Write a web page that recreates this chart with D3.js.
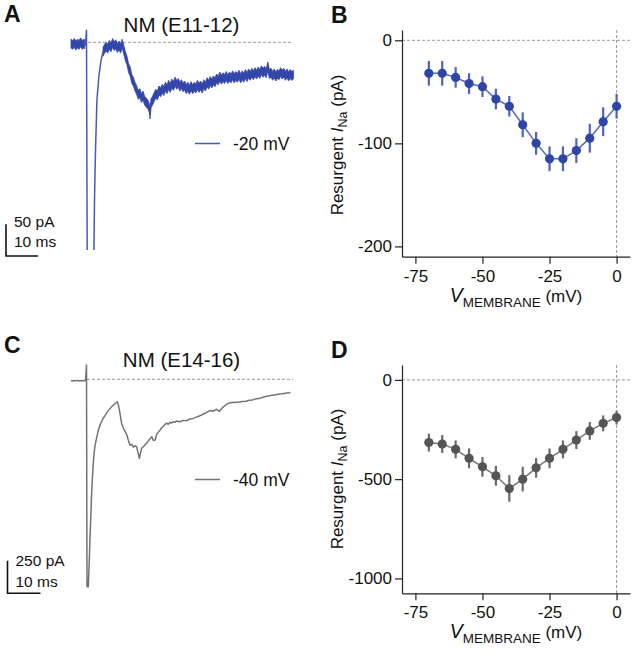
<!DOCTYPE html>
<html>
<head>
<meta charset="utf-8">
<script src="https://cdn.jsdelivr.net/npm/d3@7"></script>
<style>
body { margin: 0; background: #fff; }
text { font-family: "Liberation Sans", Arial, Helvetica, sans-serif; fill: #111; }
</style>
</head>
<body>
<script>
// ---------- DATA ----------
// Panel A trace, [time ms, current pA]; baseline & tail are noisy (drawn as band)
const A_baseline = [[0,-2],[0.5,-4],[1,-1],[1.5,-5],[2,-2],[2.5,-4],[3,0],[3.5,-4],[4,-2],[4.3,-3]];
const A_spike = [[4.3,-3],[4.5,-5],[4.84,19],[5.1,-400],[7.0,-400],[7.34,-249],[7.66,-170],[8.1,-91],[8.75,-52],[9.4,-28],[10,-15]];
const A_tail = [[10,-15],[10.5,-10],[11,-7],[11.5,-10],[12,-4],[12.5,-8],[13,-1],[13.5,-6],[14,-3],[14.5,-9],[15,-5],[15.5,-10],[16,-2],[16.5,-12],[17,-22],[17.5,-29],[18,-41],[18.5,-46],[19,-58],[19.5,-62],[20,-70],[20.5,-75],[21,-83],[21.5,-80],[22,-88],[22.5,-84],[23,-92],[23.5,-95],[24,-98],[24.5,-104],[24.7,-114],[25,-96],[25.5,-92],[26,-86],[26.5,-81],[27,-84],[27.5,-76],[28,-79],[28.5,-73],[29,-77],[29.5,-70],[30,-74],[30.5,-67],[31,-72],[31.5,-65],[32,-69],[32.5,-62],[33,-67],[33.5,-64],[34,-70],[34.5,-66],[35,-71],[35.5,-68],[36,-74],[36.5,-70],[37,-75],[37.5,-69],[38,-74],[38.5,-70],[39,-73],[39.5,-67],[40,-72],[40.5,-68],[41,-73],[41.5,-66],[42,-70],[42.5,-63],[43,-67],[43.5,-61],[44,-65],[44.5,-60],[45,-63],[45.5,-57],[46,-60],[46.5,-54],[47,-59],[47.5,-55],[48,-58],[48.5,-53],[49,-58],[49.5,-54],[50,-57],[50.5,-52],[51,-57],[51.5,-53],[52,-56],[52.5,-51],[53,-57],[53.5,-52],[54,-56],[54.5,-50],[55,-55],[55.5,-49],[56,-53],[56.5,-48],[57,-52],[57.5,-47],[58,-51],[58.5,-46],[59,-50],[59.5,-44],[60,-48],[60.5,-45],[61,-49],[61.5,-38],[62,-50],[62.5,-48],[63,-53],[63.5,-49],[64,-54],[64.5,-50],[65,-52],[65.5,-47],[66,-51],[66.5,-48],[67,-53],[67.5,-49],[68,-54],[68.5,-50],[69,-53],[69.5,-51]];
const A_noise = 7;   // half-width of noise band, pA
// Panel C trace, [time ms, current pA]
const C_trace = [[0,-10],[0.5,-13],[1,-9],[1.5,-12],[2,-8],[2.5,-13],[3,-10],[3.5,-12],[4,-9],[4.4,-11],[4.7,110],[4.85,-1590],[5.24,-1590],[5.4,-1480],[5.55,-1386],[5.75,-1220],[5.97,-1079],[6.2,-910],[6.45,-772],[6.76,-640],[7.0,-565],[7.27,-510],[7.79,-445],[8.3,-390],[8.79,-350],[9.5,-310],[10.3,-278],[11,-250],[11.8,-225],[12.5,-205],[13.3,-188],[14.0,-172],[14.4,-200],[14.85,-262],[15.36,-340],[15.8,-370],[16.3,-395],[16.9,-425],[17.4,-470],[17.9,-505],[18.4,-500],[18.9,-520],[19.4,-510],[19.9,-518],[20.3,-560],[20.7,-606],[21.1,-560],[21.4,-529],[22.0,-515],[22.5,-500],[22.9,-490],[23.5,-470],[24.0,-455],[24.5,-440],[25.0,-470],[25.5,-465],[26.0,-420],[26.5,-405],[27.0,-389],[27.5,-370],[28.0,-360],[28.5,-345],[29.0,-337],[29.5,-345],[30,-330],[30.5,-335],[31,-325],[31.5,-330],[32,-320],[33,-325],[34,-315],[35,-318],[36,-305],[37,-300],[38,-290],[39,-280],[40,-268],[41,-255],[42,-240],[43,-245],[44,-230],[45,-245],[46,-215],[47,-195],[48,-180],[49,-178],[50,-176],[51,-174],[52,-170],[53,-168],[54,-160],[55,-158],[56,-150],[57,-148],[58,-140],[59,-132],[60,-127],[61,-122],[62,-118],[63,-112],[64,-110],[65,-107],[66,-104],[66.5,-102]];
// Panels B and D: I-V relations
const voltages = [-70, -65, -60, -55, -50, -45, -40, -35, -30, -25, -20, -15, -10, -5, 0];
const B_mean = [-32, -32, -36, -42, -45, -57, -64, -82, -100, -115, -115, -107, -95, -79, -64];
const B_err  = [12, 12, 10, 10, 10, 10, 10, 12, 11, 12, 12, 12, 14, 14, 12];
const D_mean = [-316, -323, -350, -395, -438, -483, -547, -500, -443, -395, -350, -303, -257, -219, -190];
const D_err  = [45, 45, 45, 50, 50, 50, 67, 62, 50, 50, 45, 45, 45, 40, 35];
const xTicks = [-75, -50, -25, 0];
const B_yTicks = [0, -100, -200];
const D_yTicks = [0, -500, -1000];

// ---------- DRAW ----------
const W = 636, H = 654;
const svg = d3.select("body").append("svg").attr("width", W).attr("height", H);
const FONT = '"Liberation Sans", Arial, Helvetica, sans-serif';

function panelLetter(t, x, y) {
  svg.append("text").attr("x", x).attr("y", y).attr("font-size", 23).attr("font-weight", "bold").text(t);
}
panelLetter("A", 4, 22);
panelLetter("B", 331, 23);
panelLetter("C", 4, 353);
panelLetter("D", 331, 358);

// ---- Trace panels ----
function tracePanel(opts) {
  const g = svg.append("g");
  const x = d3.scaleLinear().domain([0, 10]).range([opts.x0, opts.x0 + opts.pxPer10ms]);
  const y = d3.scaleLinear().domain([0, -opts.barPA]).range([opts.y0, opts.y0 + opts.barPx]);
  const cid = "clip" + opts.id;
  svg.append("clipPath").attr("id", cid).append("rect").attr("x", 0).attr("y", opts.clipTop).attr("width", 310).attr("height", opts.clipBottom - opts.clipTop);
  g.append("line").attr("x1", opts.dashX0).attr("x2", opts.dashX1).attr("y1", y(0)).attr("y2", y(0))
    .attr("stroke", "#9a9a9a").attr("stroke-width", 1).attr("stroke-dasharray", "3,2");
  const cg = g.append("g").attr("clip-path", `url(#${cid})`);
  const area = d3.area().x(d => x(d[0])).y0(d => y(d[1] - opts.noise)).y1(d => y(d[1] + opts.noise));
  const line = d3.line().x(d => x(d[0])).y(d => y(d[1]));
  (opts.bands || []).forEach(seg => {
    cg.append("path").datum(seg).attr("d", area).attr("fill", opts.color).attr("stroke", opts.color).attr("stroke-width", 0.8);
    cg.append("path").datum(seg).attr("d", line).attr("fill", "none").attr("stroke", opts.color).attr("stroke-width", 1.2);
  });
  (opts.lines || []).forEach(seg => {
    cg.append("path").datum(seg).attr("d", line).attr("fill", "none").attr("stroke", opts.lineColor).attr("stroke-width", 1.5).attr("stroke-linejoin", "round");
  });
  g.append("text").attr("x", 181.5).attr("y", opts.titleY).attr("text-anchor", "middle").attr("font-size", 20.5).text(opts.title);
  g.append("line").attr("x1", 195).attr("x2", 220).attr("y1", opts.legY).attr("y2", opts.legY).attr("stroke", opts.lineColor).attr("stroke-width", 1.5);
  g.append("text").attr("x", 233).attr("y", opts.legY + 6.5).attr("font-size", 17.5).text(opts.legend);
  const bx = opts.barX, by = opts.barBottom;
  const vlen = y(-opts.barPA) - y(0);
  const hlen = x(10) - x(0);
  g.append("path").attr("d", `M${bx},${by - vlen}V${by}H${bx + hlen}`).attr("fill", "none").attr("stroke", "#111").attr("stroke-width", 1.6);
  g.append("text").attr("x", bx + 8).attr("y", opts.barText1Y).attr("font-size", 15.5).text(opts.barLabel);
  g.append("text").attr("x", bx + 8).attr("y", opts.barText2Y).attr("font-size", 15.5).text("10 ms");
}

tracePanel({
  id: "A", bands: [A_baseline, A_tail], lines: [A_spike], noise: A_noise,
  x0: 71, pxPer10ms: 32, y0: 42.3, barPA: 50, barPx: 31.7,
  clipTop: 0, clipBottom: 250,
  dashX0: 88, dashX1: 293, color: "#3347aa", lineColor: "#4659bb",
  title: "NM (E11-12)", titleY: 31.5, legY: 143.5, legend: "-20 mV",
  barX: 6, barBottom: 256, barLabel: "50 pA", barText1Y: 226.5, barText2Y: 246.5
});
tracePanel({
  id: "C", bands: [], lines: [C_trace], noise: 0,
  x0: 71, pxPer10ms: 33, y0: 379.3, barPA: 250, barPx: 32.6,
  clipTop: 330, clipBottom: 654,
  dashX0: 87, dashX1: 293, color: "#707070", lineColor: "#737373",
  title: "NM (E14-16)", titleY: 366.5, legY: 479.5, legend: "-40 mV",
  barX: 7.5, barBottom: 593.3, barLabel: "250 pA", barText1Y: 566, barText2Y: 586.5
});

// ---- I-V panels ----
function ivPanel(opts) {
  const g = svg.append("g").attr("font-family", FONT);
  const x = d3.scaleLinear().domain([-80, 5]).range([402, 630]);
  const y = d3.scaleLinear().domain(opts.yDomain).range([opts.top, opts.bottom]);
  g.append("line").attr("x1", 402).attr("x2", 632).attr("y1", y(0)).attr("y2", y(0))
    .attr("stroke", "#9a9a9a").attr("stroke-dasharray", "3,2");
  g.append("line").attr("x1", x(0)).attr("x2", x(0)).attr("y1", opts.top).attr("y2", opts.bottom)
    .attr("stroke", "#9a9a9a").attr("stroke-dasharray", "3,2");
  const ax = g.append("g").attr("transform", `translate(0,${opts.bottom})`)
    .call(d3.axisBottom(x).tickValues(xTicks).tickSize(7).tickPadding(6).tickSizeOuter(0).tickFormat(d => String(d)));
  const ay = g.append("g").attr("transform", `translate(402,0)`)
    .call(d3.axisLeft(y).tickValues(opts.yTicks).tickSize(7).tickPadding(3).tickSizeOuter(0).tickFormat(d => String(d)));
  [ax, ay].forEach(a => {
    a.attr("font-family", null).attr("font-size", null);
    a.selectAll("text").attr("font-size", 17).attr("fill", "#111");
    a.selectAll("line,path").attr("stroke", "#222").attr("stroke-width", 1.2);
  });
  const pts = voltages.map((v, i) => ({ v, m: opts.mean[i], e: opts.err[i] }));
  g.append("path").datum(pts).attr("d", d3.line().x(d => x(d.v)).y(d => y(d.m)))
    .attr("fill", "none").attr("stroke", opts.lineColor).attr("stroke-width", 1.6);
  g.selectAll(".eb").data(pts).join("line")
    .attr("x1", d => x(d.v)).attr("x2", d => x(d.v))
    .attr("y1", d => y(d.m - d.e)).attr("y2", d => y(d.m + d.e))
    .attr("stroke", opts.barColor).attr("stroke-width", 2.2);
  g.selectAll(".dot").data(pts).join("circle")
    .attr("cx", d => x(d.v)).attr("cy", d => y(d.m)).attr("r", 4.6).attr("fill", opts.dotColor);
  const yt = g.append("text").attr("transform", `translate(343,${opts.yTitleC}) rotate(-90)`)
    .attr("text-anchor", "middle").attr("font-size", 17);
  yt.append("tspan").text("Resurgent ");
  yt.append("tspan").attr("font-style", "italic").text("I");
  yt.append("tspan").attr("font-size", 12.5).attr("dy", 4).text("Na");
  yt.append("tspan").attr("dy", -4).text(" (pA)");
  const xt = g.append("text").attr("x", 516).attr("y", opts.bottom + 45).attr("text-anchor", "middle").attr("font-size", 17);
  xt.append("tspan").attr("font-style", "italic").attr("font-size", 19.5).text("V");
  xt.append("tspan").attr("font-size", 13.5).attr("dy", 5).text("MEMBRANE");
  xt.append("tspan").attr("dy", -5).text(" (mV)");
}

ivPanel({
  yDomain: [10, -210], top: 30, bottom: 256.7, yTicks: B_yTicks,
  mean: B_mean, err: B_err, lineColor: "#5a6dc4", barColor: "#4e62bf", dotColor: "#2f45a6",
  yTitleC: 145
});
ivPanel({
  yDomain: [75, -1075], top: 365, bottom: 593.3, yTicks: D_yTicks,
  mean: D_mean, err: D_err, lineColor: "#7a7a7a", barColor: "#6a6a6a", dotColor: "#555555",
  yTitleC: 479
});
</script>
</body>
</html>
